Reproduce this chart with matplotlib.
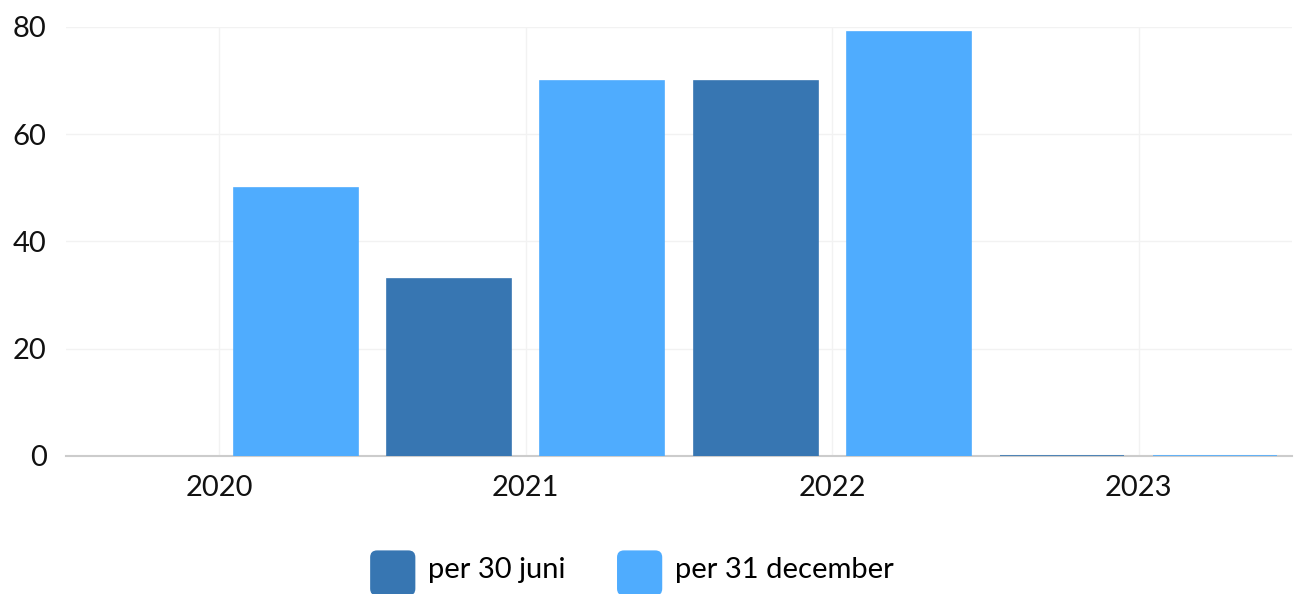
import numpy as np
import matplotlib
matplotlib.use("Agg")
import matplotlib.pyplot as plt
from matplotlib.patches import FancyBboxPatch, Patch
from matplotlib.legend_handler import HandlerPatch

plt.rcParams['font.family'] = ['Lato', 'DejaVu Sans']

categories = ['2020', '2021', '2022', '2023']
series_names = ['per 30 juni', 'per 31 december']
juni = [np.nan, 33, 70, 0]
december = [50, 70, 79, 0]
colors = ['#3776b2', '#4facfe']

fig = plt.figure(figsize=(12.98, 5.94), dpi=100)
ax = fig.add_axes([66/1298, 1-456/594, (1292-66)/1298, (456-27)/594])

x = np.arange(len(categories))
w = 0.405
for vals, off, col, name in [(juni, -0.25, colors[0], series_names[0]),
                             (december, 0.25, colors[1], series_names[1])]:
    v = np.array(vals, dtype=float)
    ax.bar(x + off, v, width=w, color=col, edgecolor=col, linewidth=1.2,
           label=name, zorder=3)

ax.set_xlim(-0.5, len(categories) - 0.5)
ax.set_ylim(0, 80)
ax.set_yticks([0, 20, 40, 60, 80])
ax.set_xticks(x)
ax.set_xticklabels(categories)
ax.tick_params(axis='both', length=0, labelsize=21, colors='#111111')
ax.tick_params(axis='y', pad=14)
ax.tick_params(axis='x', pad=14)
for s in ['top', 'right', 'left']:
    ax.spines[s].set_visible(False)
ax.spines['bottom'].set_color('#cccccc')
ax.spines['bottom'].set_linewidth(1.5)
ax.spines['bottom'].set_zorder(2)
ax.grid(True, color='#f2f2f2', linewidth=1, zorder=0)
ax.set_axisbelow(True)


class RoundHandler(HandlerPatch):
    def create_artists(self, legend, orig_handle, xdescent, ydescent, width,
                       height, fontsize, trans):
        s = width
        p = FancyBboxPatch((-xdescent, -ydescent - 0.32 * s), s, s,
                           boxstyle="round,pad=0,rounding_size=5",
                           facecolor=orig_handle.get_facecolor(),
                           edgecolor='none', transform=trans)
        return [p]


handles = [Patch(facecolor=c, label=n) for c, n in zip(colors, series_names)]
fig.legend(handles=handles, loc='center', bbox_to_anchor=(0.487, 0.042),
           ncol=2, frameon=False, fontsize=21, handlelength=1.55,
           handleheight=1.0, handletextpad=0.45, columnspacing=1.75,
           handler_map={Patch: RoundHandler()})

fig.savefig('out.png', dpi=100, facecolor='white')
